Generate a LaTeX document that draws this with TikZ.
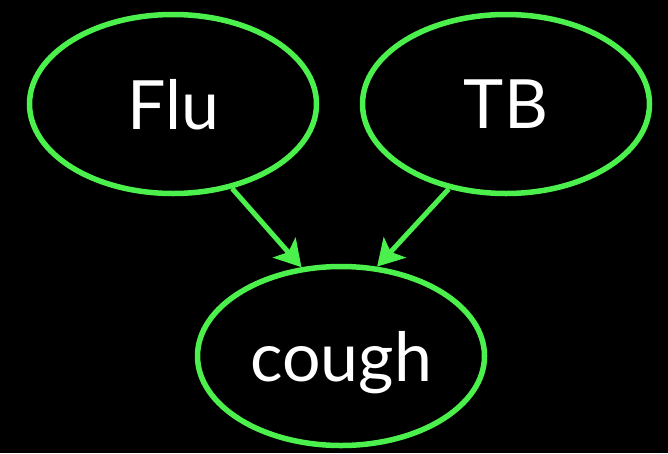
\documentclass[tikz,border=0pt]{standalone}
\usepackage{fontspec}
\setmainfont{Lato}
\usetikzlibrary{shapes.geometric,arrows.meta}
\definecolor{nodegreen}{RGB}{76,240,76}
\tikzset{
  varnode/.style={ellipse, draw=nodegreen, line width=5.5pt, text=white,
    minimum width=287pt, minimum height=179pt, inner sep=0pt, text depth=0pt,
    font=\fontsize{68}{72}\selectfont},
  edge/.style={draw=nodegreen, line width=5pt,
    -{Stealth[length=26pt,width=30pt,inset=6pt]}}
}
\begin{document}
\begin{tikzpicture}[x=1pt,y=-1pt]
\fill[black] (0,0) rectangle (668,453);
\useasboundingbox (0,0) rectangle (668,453);
\node[varnode] (flu) at (173,104) {Flu};
\node[varnode] (tb) at (506,104) {TB};
\node[varnode] (cough) at (341,356) {cough};
\draw[edge] (flu.-55) -- (cough.114);
\draw[edge] (tb.-124) -- (cough.68);
\end{tikzpicture}
\end{document}
